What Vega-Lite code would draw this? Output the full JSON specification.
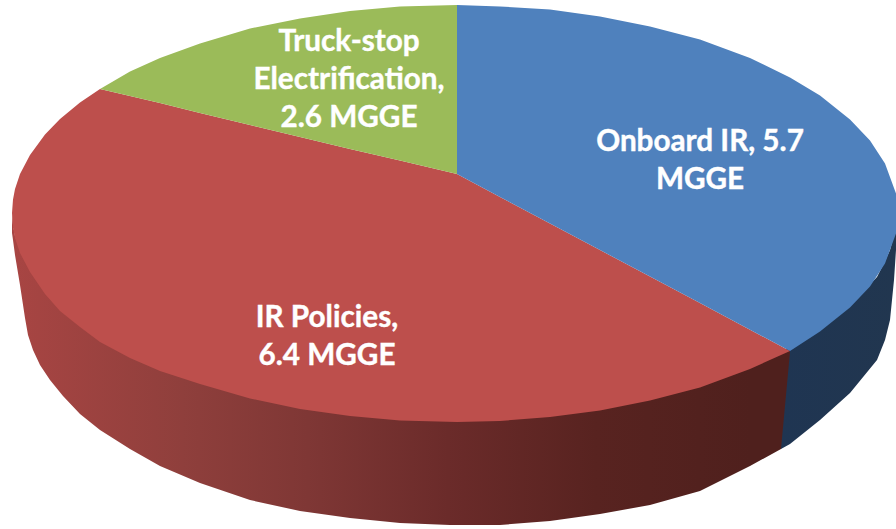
{"$schema":"https://vega.github.io/schema/vega-lite/v6.json","width":896,"height":529,"padding":0,"autosize":{"type":"fit","contains":"padding"},"background":"#ffffff","view":{"stroke":null},
"datasets":{
"redSide":[{"x":12,"y":233,"y2":213},{"x":13,"y":240,"y2":225},{"x":15,"y":255,"y2":236},{"x":20,"y":285,"y2":250},{"x":25,"y":318,"y2":260},{"x":28,"y":335,"y2":266},{"x":33,"y":350,"y2":273},{"x":40,"y":365,"y2":285},{"x":50,"y":380,"y2":296},{"x":63,"y":396,"y2":309},{"x":80,"y":414,"y2":325},{"x":100,"y":430,"y2":340},{"x":130,"y":449,"y2":356},{"x":160,"y":466,"y2":369},{"x":200,"y":483,"y2":382},{"x":250,"y":500,"y2":396},{"x":300,"y":511,"y2":407},{"x":350,"y":518,"y2":414},{"x":400,"y":523,"y2":418},{"x":450,"y":525,"y2":420},{"x":500,"y":525,"y2":419},{"x":550,"y":521,"y2":415},{"x":600,"y":514,"y2":408},{"x":650,"y":505,"y2":398},{"x":700,"y":491,"y2":385},{"x":750,"y":466,"y2":367},{"x":781,"y":449,"y2":353},{"x":790,"y":352,"y2":350}],
"blueSide":[{"x":781,"y":449,"y2":353},{"x":790,"y":444,"y2":345},{"x":820,"y":420,"y2":329},{"x":850,"y":393,"y2":305},{"x":877,"y":360,"y2":277},{"x":885,"y":340,"y2":261},{"x":890,"y":320,"y2":250},{"x":894,"y":280,"y2":235},{"x":896,"y":250,"y2":228}],
"blueTop":[{"x":457,"y":5,"y2":174},{"x":500,"y":6.5,"y2":197},{"x":550,"y":9.5,"y2":223.5},{"x":600,"y":16.5,"y2":250},{"x":650,"y":26.5,"y2":276.6},{"x":700,"y":39.5,"y2":303},{"x":750,"y":58,"y2":329.7},{"x":790,"y":77.5,"y2":351},{"x":820,"y":95.5,"y2":331.5},{"x":850,"y":119.5,"y2":307.5},{"x":870,"y":140.5,"y2":286.5},{"x":885,"y":163.5,"y2":263.5},{"x":896,"y":193.5,"y2":233.5}],
"redTop":[{"x":12,"y":213,"y2":213},{"x":13,"y":199.5,"y2":227.5},{"x":15,"y":189,"y2":238},{"x":20,"y":174,"y2":253},{"x":30,"y":155,"y2":272},{"x":45,"y":134.5,"y2":294},{"x":60,"y":119,"y2":311},{"x":80,"y":102.5,"y2":327},{"x":100,"y":89,"y2":342},{"x":130,"y":96,"y2":358},{"x":160,"y":103,"y2":371},{"x":200,"y":113,"y2":384},{"x":250,"y":125,"y2":398.5},{"x":300,"y":137,"y2":409},{"x":350,"y":149,"y2":416},{"x":400,"y":160.5,"y2":420.5},{"x":457,"y":174,"y2":422},{"x":500,"y":197,"y2":421},{"x":550,"y":223.5,"y2":417},{"x":600,"y":250,"y2":410.5},{"x":650,"y":276.6,"y2":400.5},{"x":700,"y":303,"y2":387.5},{"x":750,"y":329.7,"y2":369},{"x":790,"y":351,"y2":351}],
"greenTop":[{"x":100,"y":89,"y2":89},{"x":130,"y":71.5,"y2":96},{"x":160,"y":58,"y2":103},{"x":200,"y":43.5,"y2":113},{"x":250,"y":28.5,"y2":125},{"x":300,"y":18.5,"y2":137},{"x":350,"y":11,"y2":149},{"x":400,"y":6.5,"y2":160.5},{"x":457,"y":5,"y2":174}],
"labels":[{"label":"Onboard IR, 5.7\nMGGE","value":5.7,"x":700,"y":142},{"label":"Truck-stop\nElectrification,\n2.6 MGGE","value":2.6,"x":349,"y":42},{"label":"IR Policies,\n6.4 MGGE","value":6.4,"x":327,"y":318}]
},
"encoding":{
"x":{"field":"x","type":"quantitative","scale":{"domain":[0,896],"nice":false,"zero":false},"axis":null},
"y":{"field":"y","type":"quantitative","scale":{"domain":[529,0],"nice":false,"zero":false},"axis":null}
},
"layer":[
{"data":{"name":"blueSide"},"mark":{"type":"area","color":{"gradient":"linear","x1":0,"x2":1,"y1":0,"y2":0,"stops":[{"offset":0,"color":"#1f3552"},{"offset":1,"color":"#21364f"}]}},"encoding":{"y2":{"field":"y2"}}},
{"data":{"name":"redSide"},"mark":{"type":"area","color":{"gradient":"linear","x1":0,"x2":1,"y1":0,"y2":0,"stops":[{"offset":0,"color":"#a84543"},{"offset":0.22,"color":"#8f3f3c"},{"offset":0.38,"color":"#7f3735"},{"offset":0.56,"color":"#6b2b2a"},{"offset":0.75,"color":"#582320"},{"offset":0.95,"color":"#4f201d"},{"offset":1,"color":"#4f201d"}]}},"encoding":{"y2":{"field":"y2"}}},
{"data":{"name":"redTop"},"mark":{"type":"area","color":"#bd4f4c"},"encoding":{"y2":{"field":"y2"}}},
{"data":{"name":"greenTop"},"mark":{"type":"area","color":"#9bbb59"},"encoding":{"y2":{"field":"y2"}}},
{"data":{"name":"blueTop"},"mark":{"type":"area","color":"#4f81bd"},"encoding":{"y2":{"field":"y2"}}},
{"data":{"name":"labels"},"mark":{"type":"text","font":"Lato","fontWeight":"bold","fontSize":29.7,"color":"#ffffff","stroke":"#ffffff","strokeWidth":0.4,"align":"center","baseline":"middle","lineBreak":"\n","lineHeight":38},"encoding":{"text":{"field":"label"}}}
]}
